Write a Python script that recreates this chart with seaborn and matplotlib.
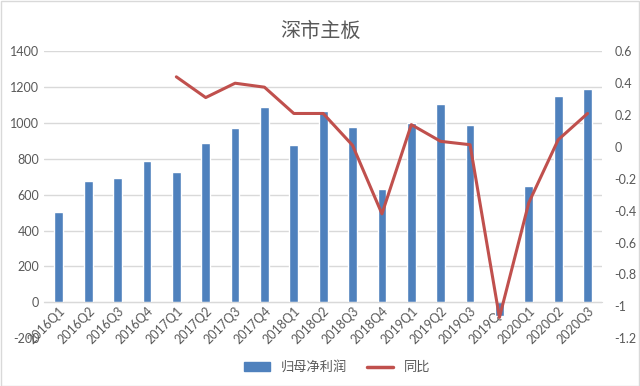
import numpy as np
import pandas as pd
import matplotlib.pyplot as plt
import matplotlib.patches as mpatches
from matplotlib.lines import Line2D
import seaborn as sns

# Data
quarters = ["2016Q1", "2016Q2", "2016Q3", "2016Q4",
            "2017Q1", "2017Q2", "2017Q3", "2017Q4",
            "2018Q1", "2018Q2", "2018Q3", "2018Q4",
            "2019Q1", "2019Q2", "2019Q3", "2019Q4",
            "2020Q1", "2020Q2", "2020Q3"]
profit = [502, 676, 692, 790, 726, 890, 970, 1090, 878, 1068, 980, 634,
          1002, 1107, 990, -75, 650, 1152, 1191]
yoy = [np.nan, np.nan, np.nan, np.nan, 0.44, 0.31, 0.40, 0.375, 0.21, 0.21,
       0.01, -0.42, 0.14, 0.035, 0.014, -1.07, -0.35, 0.045, 0.21]
left_ticks = [-200, 0, 200, 400, 600, 800, 1000, 1200, 1400]
right_ticks = [-1.2, -1.0, -0.8, -0.6, -0.4, -0.2, 0, 0.2, 0.4, 0.6]

sns.set_style("white")
plt.rcParams["font.family"] = ["Lato", "Noto Sans CJK SC", "DejaVu Sans"]
plt.rcParams["axes.unicode_minus"] = False

bar_color = "#4F81BD"
line_color = "#C0504D"
text_color = "#595959"
grid_color = "#D9D9D9"

df = pd.DataFrame({"quarter": quarters, "profit": profit, "yoy": yoy})
df["pos"] = np.arange(len(df))

fig = plt.figure(figsize=(6.4, 3.86), dpi=100)
ax = fig.add_axes([0.069, 0.124, 0.872, 0.743])

sns.barplot(data=df, x="quarter", y="profit", color=bar_color, width=0.3,
            saturation=1, ax=ax)
ax.set_ylim(-200, 1400)
ax.set_xlim(-0.5, len(quarters) - 0.5)
ax.set_yticks(left_ticks)
ax.set_yticklabels([str(t) for t in left_ticks])
ax.set_xlabel("")
ax.set_ylabel("")
ax.grid(axis="y", color=grid_color, linewidth=1)
ax.set_axisbelow(True)
ax.get_ygridlines()[0].set_visible(False)
for s in ["top", "left", "right"]:
    ax.spines[s].set_visible(False)
ax.spines["bottom"].set_position(("data", 0))
ax.spines["bottom"].set_color(grid_color)
ax.tick_params(axis="both", length=0, colors=text_color, labelsize=9)
ax.tick_params(axis="x", pad=2)
plt.setp(ax.get_xticklabels(), rotation=45, ha="right", va="top",
         rotation_mode="anchor")

ax2 = ax.twinx()
sns.lineplot(data=df, x="pos", y="yoy", color=line_color, linewidth=2.2, ax=ax2)
ax2.set_ylim(-1.2, 0.6)
ax2.set_yticks(right_ticks)
ax2.set_yticklabels(["%g" % t for t in right_ticks])
ax2.set_xlim(-0.5, len(quarters) - 0.5)
ax2.set_ylabel("")
ax2.set_xlabel("")
for s in ax2.spines.values():
    s.set_visible(False)
ax2.tick_params(axis="y", length=0, colors=text_color, labelsize=9, pad=9)
ax2.grid(False)

fig.text(0.5, 0.922, "深市主板", ha="center", va="center", fontsize=14.5,
         color=text_color)

handles = [mpatches.Patch(color=bar_color), Line2D([], [], color=line_color, linewidth=2.5)]
fig.legend(handles, ["归母净利润", "同比"], loc="center", bbox_to_anchor=(0.527, 0.05),
           ncol=2, frameon=False, fontsize=9.5, labelcolor=text_color,
           handlelength=2.0, columnspacing=1.5)

fig.patches.append(mpatches.Rectangle((0.001, 0.001), 0.997, 0.997, transform=fig.transFigure,
                                      fill=False, edgecolor="#D9D9D9", linewidth=1))

fig.savefig("out.png", dpi=100)
